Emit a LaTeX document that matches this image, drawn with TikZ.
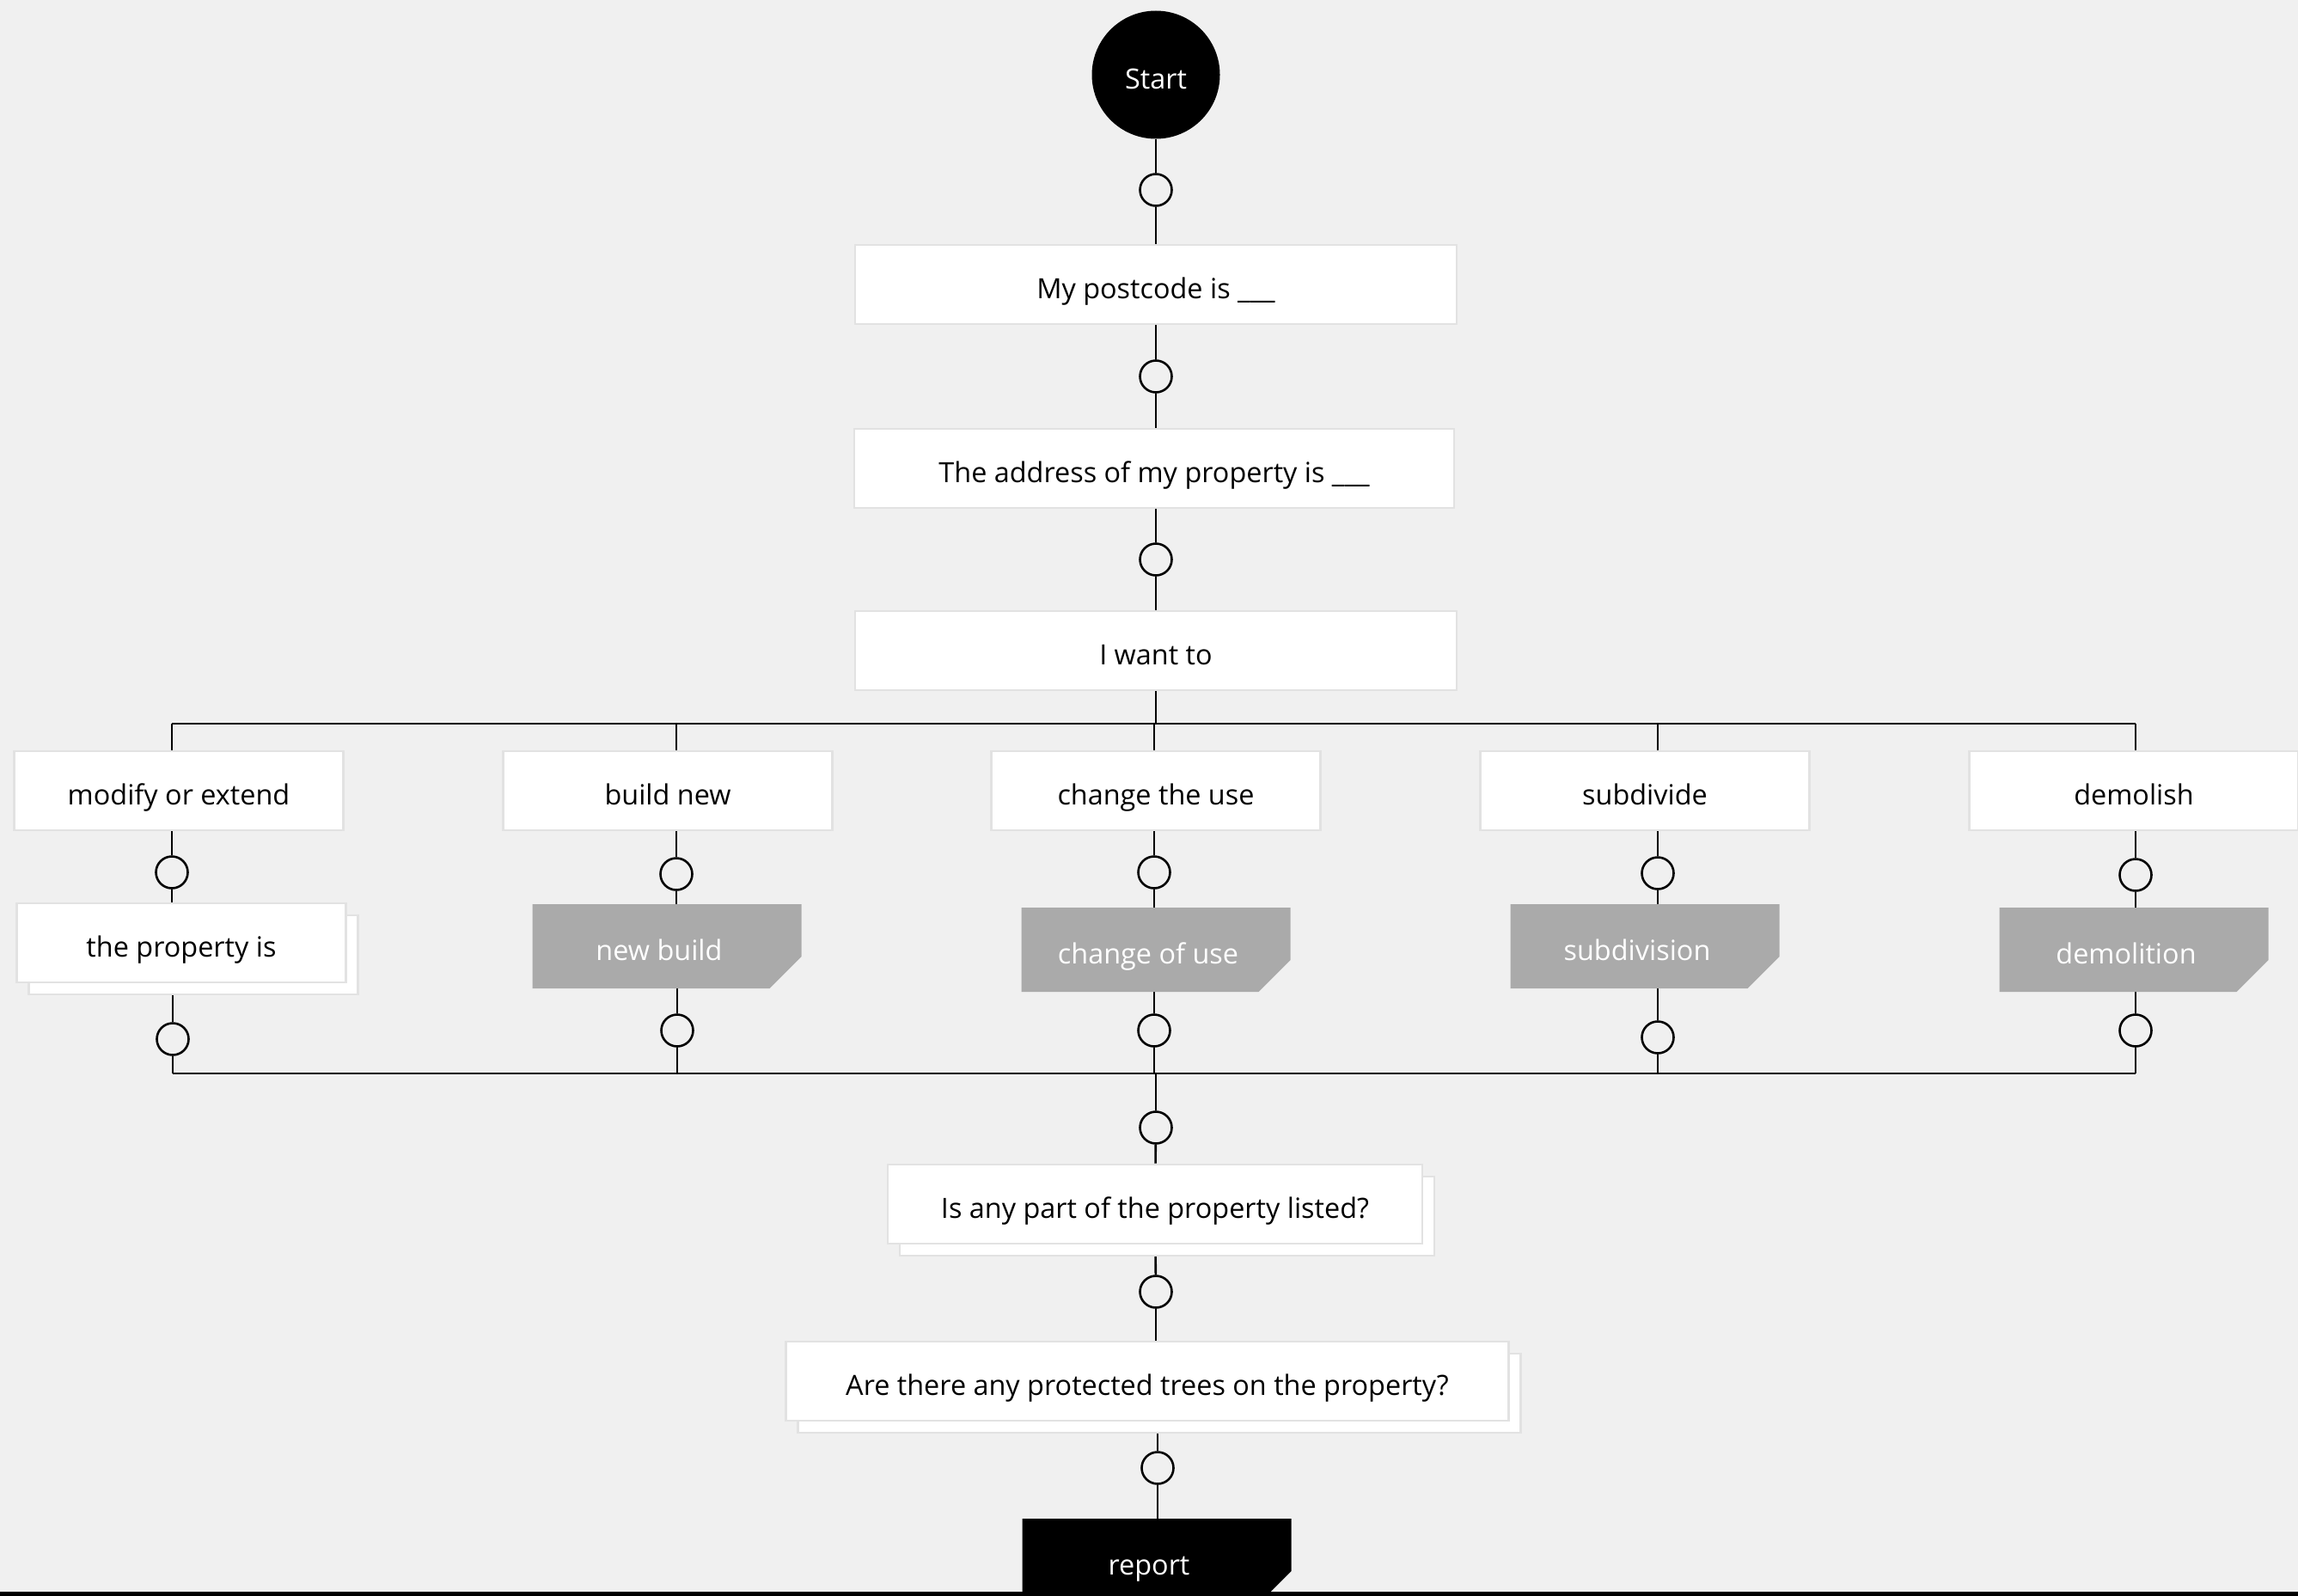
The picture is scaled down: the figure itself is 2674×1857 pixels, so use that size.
\documentclass[tikz,border=0pt]{standalone}
\usepackage{fontspec}
\setmainfont{Open Sans}
\usepackage{xcolor}
\usetikzlibrary{shadows, calc, backgrounds}
\definecolor{bggray}{HTML}{F0F0F0}
\definecolor{boxline}{HTML}{E2E2E2}
\definecolor{taggray}{HTML}{AAAAAA}
\tikzset{
    startnode/.style={
        circle, fill=black, text=white,
        minimum size=149pt, inner sep=0pt,
        text height=34pt, text depth=1pt,
    },
    stepbox/.style={
        rectangle, draw=boxline, fill=white, line width=2.6pt,
        minimum width=383pt, minimum height=92pt,
        text centered, align=center,
        text height=34pt, text depth=1pt,
    },
    stackbox/.style={
        stepbox,
        copy shadow={shadow xshift=14pt, shadow yshift=-14pt,
            draw=boxline, fill=white, line width=2.6pt},
    },
    tagbox/.style={
        rectangle, minimum width=313pt, minimum height=98pt,
        text=white, text centered,
        text height=34pt, text depth=1pt,
        execute at end node=\hspace*{18pt},
        path picture={
            \fill[#1] (path picture bounding box.north west)
                -- (path picture bounding box.north east)
                -- ([yshift=37pt]path picture bounding box.south east)
                -- ([xshift=-37pt]path picture bounding box.south east)
                -- (path picture bounding box.south west) -- cycle;
        },
    },
    tagbox/.default=taggray,
    joint/.style={
        circle, draw=black, fill=bggray, line width=2.6pt,
        minimum size=37pt, inner sep=0pt,
    },
    flow/.style={line width=2.6pt, draw=black},
}

\begin{document}
\begin{tikzpicture}[x=1pt, y=-1pt, font=\fontsize{32.4}{39}\selectfont]
    \useasboundingbox (0,0) rectangle (2674,1857);

    % questions down the middle
    \node[startnode] (start) at (1345,87) {Start};
    \node[joint] (j0) at (1345,221) {};
    \node[stepbox, minimum width=700pt] (postcode) at (1345,331)
        {My postcode is \_\_\_};
    \node[joint] (j1) at (1345,438) {};
    \node[stepbox, minimum width=698pt] (address) at (1343,545)
        {The address of my property is \_\_\_};
    \node[joint] (j2) at (1345,651) {};
    \node[stepbox, minimum width=700pt] (want) at (1345,757) {I want to};
    \coordinate (split) at (1345,842);

    % the five choices
    \node[stepbox] (modify) at (208,920) {modify or extend};
    \node[stepbox] (buildnew) at (777,920) {build new};
    \node[stepbox] (changeuse) at (1345,920) {change the use};
    \node[stepbox] (subdivide) at (1914,920) {subdivide};
    \node[stepbox] (demolish) at (2483,920) {demolish};

    \node[joint] (ja1) at (200,1015) {};
    \node[joint] (ja2) at (787,1017) {};
    \node[joint] (ja3) at (1343,1015) {};
    \node[joint] (ja4) at (1929,1016) {};
    \node[joint] (ja5) at (2485,1018) {};

    \node[stackbox] (propertyis) at (211,1097) {the property is};
    \node[tagbox] (newbuild) at (776,1101) {new build};
    \node[tagbox] (changeofuse) at (1345,1105) {change of use};
    \node[tagbox] (subdivision) at (1914,1101) {subdivision};
    \node[tagbox] (demolition) at (2483,1105) {demolition};

    \node[joint] (jb1) at (201,1209) {};
    \node[joint] (jb2) at (788,1199) {};
    \node[joint] (jb3) at (1343,1199) {};
    \node[joint] (jb4) at (1929,1207) {};
    \node[joint] (jb5) at (2485,1199) {};
    \coordinate (merge) at (1345,1249);

    % constraints and report
    \node[joint] (j3) at (1345,1312) {};
    \node[stackbox, minimum width=622pt] (listed) at (1344,1401)
        {Is any part of the property listed?};
    \node[joint] (j4) at (1345,1503) {};
    \node[stackbox, minimum width=841pt] (trees) at (1335,1607)
        {Are there any protected trees on the property?};
    \node[joint] (j5) at (1347,1708) {};
    \node[tagbox=black] (report) at (1346,1816) {report};

    \draw[line width=5pt] (0,1854) -- (2674,1854);

    \begin{scope}[on background layer]
        \fill[bggray] (0,0) rectangle (2674,1857);

        \draw[flow] (start) -- (j0);
        \draw[flow] (j0) -- (postcode);
        \draw[flow] (postcode) -- (j1);
        \draw[flow] (j1) -- (address.north -| j1);
        \draw[flow] (address.south -| j2) -- (j2);
        \draw[flow] (j2) -- (want);
        \draw[flow] (want) -- (split);
        \draw[flow] (ja1 |- split) -- (ja5 |- split);
        \draw[flow] (jb1 |- merge) -- (jb5 |- merge);

        \foreach \opt/\res/\ja/\jb in {modify/propertyis/ja1/jb1,
                buildnew/newbuild/ja2/jb2, changeuse/changeofuse/ja3/jb3,
                subdivide/subdivision/ja4/jb4, demolish/demolition/ja5/jb5} {
            \draw[flow] (\ja |- split) -- (\ja |- \opt.north);
            \draw[flow] (\ja |- \opt.south) -- (\ja) -- (\ja |- \res.north);
            \draw[flow] (\jb |- \res.south) -- (\jb) -- (\jb |- merge);
        }

        \draw[flow] (merge) -- (j3);
        \draw[flow] (j3) -- (listed);
        \draw[flow] (listed) -- (j4);
        \draw[flow] (j4) -- (j4 |- trees.north);
        \draw[flow] (trees.south -| j5) -- (j5);
        \draw[flow] (j5) -- (j5 |- report.north);
    \end{scope}
\end{tikzpicture}
\end{document}
